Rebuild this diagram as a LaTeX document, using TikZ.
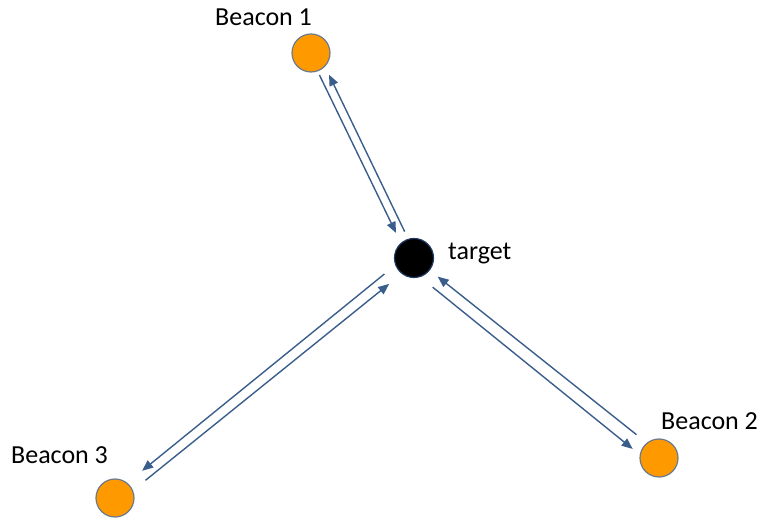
\documentclass[tikz,border=0pt]{standalone}
\usepackage{fontspec}
\setmainfont{Carlito}
\usetikzlibrary{arrows.meta}

\definecolor{beaconfill}{HTML}{FF9900}
\definecolor{beaconline}{HTML}{6A7A8C}
\definecolor{pingblue}{HTML}{3A5E8C}
\definecolor{targetline}{HTML}{1F3864}

\tikzset{
  beacon/.style={circle, fill=beaconfill, draw=beaconline, line width=1.2pt, minimum size=38pt, inner sep=0pt},
  targetdot/.style={circle, fill=black, draw=targetline, line width=1.2pt, minimum size=39pt, inner sep=0pt},
  lbl/.style={anchor=base west, inner sep=0pt, font=\fontsize{26}{30}\selectfont},
  ping/.style={draw=pingblue, line width=1.4pt, -{Triangle[length=11pt,width=9pt]}}
}

\begin{document}
\begin{tikzpicture}[x=1pt, y=1pt]
    \useasboundingbox (0, 0) rectangle (762, 519);

    \node [beacon] (b1) at (311, 466) {};
    \node [targetdot] (t) at (414, 261) {};
    \node [beacon] (b2) at (659, 61) {};
    \node [beacon] (b3) at (115, 21) {};

    \node [lbl] (l1) at (215, 493) {Beacon 1};
    \node [lbl] (lt) at (448, 259) {target};
    \node [lbl] (l2) at (661, 89) {Beacon 2};
    \node [lbl] (l3) at (11, 56) {Beacon 3};

    \draw [ping, shorten <=4pt, shorten >=11pt] (b1.290) -- (t.131);
    \draw [ping, shorten <=8pt, shorten >=9pt] (t.107) -- (b1.316);
    \draw [ping, shorten <=13pt, shorten >=10pt] (b2.129) -- (t.322);
    \draw [ping, shorten <=16pt, shorten >=9pt] (t.288) -- (b2.170);
    \draw [ping, shorten <=14pt, shorten >=19pt] (t.201) -- (b3.51);
    \draw [ping, shorten <=16pt, shorten >=16pt] (b3.23) -- (t.232);
\end{tikzpicture}
\end{document}
